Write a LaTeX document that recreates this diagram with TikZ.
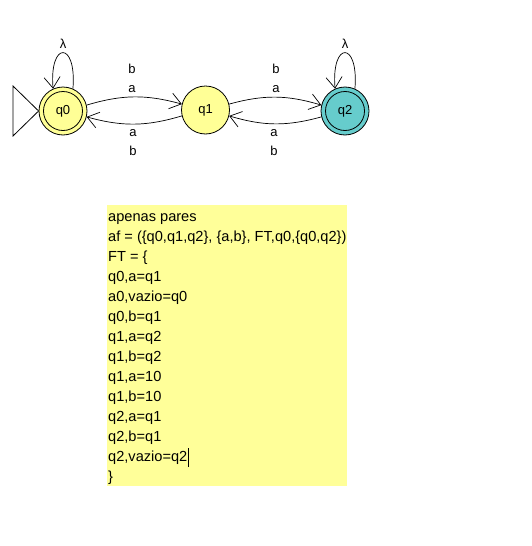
\documentclass[tikz,border=0pt]{standalone}
\usepackage{fontspec}
\setmainfont{Liberation Sans}
\usetikzlibrary{arrows.meta}
\definecolor{stateyellow}{RGB}{255,255,150}
\definecolor{stateteal}{RGB}{102,204,204}
\definecolor{boxyellow}{RGB}{255,255,153}
\tikzset{
  statenode/.style={circle,draw=black,line width=0.8pt,fill=stateyellow,minimum size=48pt,inner sep=0pt,font=\fontsize{13}{13}\selectfont},
  trans/.style={draw=black,line width=0.7pt,-{Straight Barb[length=11pt,width=16pt,line width=0.7pt]}},
  elabel/.style={font=\fontsize{13}{13}\selectfont,inner sep=0pt},
  ftline/.style={anchor=base west,inner sep=0pt,font=\fontsize{14.6}{20}\selectfont}
}
\begin{document}
\begin{tikzpicture}[x=1pt,y=-1pt]
\useasboundingbox (0,0) rectangle (531,546);
\fill[white] (0,0) rectangle (531,546);
% states
\node[statenode] (q0) at (63,111) {};
\draw[line width=0.8pt,fill=stateyellow] (q0.center) circle (19.5pt);
\node[font=\fontsize{13}{13}\selectfont] at (q0.center) {q0};
\node[statenode] (q1) at (205.5,110) {q1};
\node[statenode,fill=stateteal] (q2) at (345,111) {};
\draw[line width=0.8pt,fill=stateteal] (q2.center) circle (19.5pt);
\node[font=\fontsize{13}{13}\selectfont] at (q2.center) {q2};
% initial triangle
\coordinate (t1) at (13,86);
\coordinate (t2) at (13,136);
\draw[line width=0.8pt,fill=white] (t1) -- (q0.west) -- (t2) -- cycle;
% transitions
\draw[trans] (q0.14) to[bend left=16] (q1.166);
\draw[trans] (q1.194) to[bend left=16] (q0.346);
\draw[trans] (q1.14) to[bend left=16] (q2.166);
\draw[trans] (q2.194) to[bend left=16] (q1.346);
% self loops
\draw[trans] (q0.66) .. controls +(4,-48) and +(-4,-48) .. (q0.114);
\draw[trans] (q2.66) .. controls +(4,-48) and +(-4,-48) .. (q2.114);
% labels
\node[elabel] (l0) at (63,44) {λ};
\node[elabel] (l1) at (345,44) {λ};
\node[elabel] (lb1) at (132,69) {b};
\node[elabel] (la1) at (132,89) {a};
\node[elabel] (la2) at (133,133) {a};
\node[elabel] (lb2) at (133,151) {b};
\node[elabel] (lb3) at (276,69) {b};
\node[elabel] (la3) at (276,89) {a};
\node[elabel] (la4) at (274,133) {a};
\node[elabel] (lb4) at (274,151) {b};
% text box
\fill[boxyellow] (107,205) rectangle (347,486);
\foreach \t [count=\i from 0] in {
  {apenas pares},
  {af = (\{q0,q1,q2\}, \{a,b\}, FT,q0,\{q0,q2\})},
  {FT = \{},
  {q0,a=q1},
  {a0,vazio=q0},
  {q0,b=q1},
  {q1,a=q2},
  {q1,b=q2},
  {q1,a=10},
  {q1,b=10},
  {q2,a=q1},
  {q2,b=q1},
  {q2,vazio=q2},
  {\}}
}{
  \node[ftline] (ft\i) at (108,{221+20*\i}) {\t};
}
\draw[line width=0.8pt] (ft12.south east) ++(1,3) -- ++(0,-19);
\end{tikzpicture}
\end{document}
